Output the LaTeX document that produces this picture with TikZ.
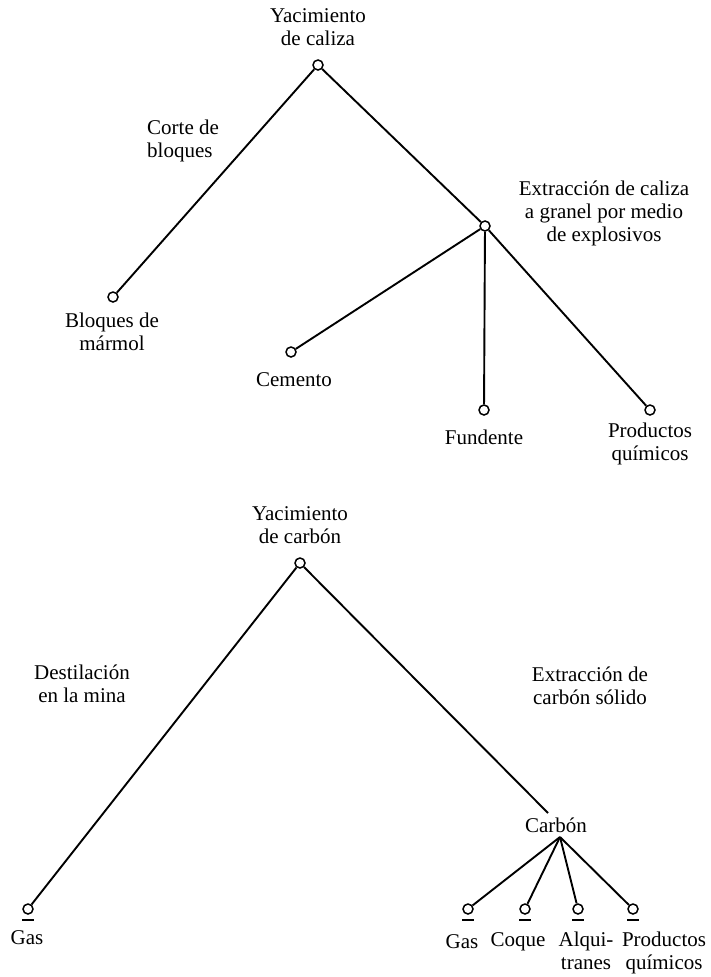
\documentclass[tikz,border=0pt]{standalone}
\usepackage{fontspec}
\setmainfont{Liberation Serif}
\begin{document}
\begin{tikzpicture}[x=1pt,y=-1pt,
  branch/.style={line width=1.9pt},
  joint/.style={circle,draw,line width=1.5pt,fill=white,inner sep=0pt,minimum size=10pt},
  lbl/.style={font=\fontsize{21}{23}\selectfont,align=center,inner sep=0pt},
  underbar/.style={line width=1.9pt},
]
\useasboundingbox (0,0) rectangle (711,977);

% ---- limestone deposit ----
\node[lbl] (t1) at (318,27) {Yacimiento\\de caliza};
\node[joint] (r1) at (318,65) {};
\node[joint] (a)  at (485,226) {};
\node[joint] (b1) at (113,297) {};
\node[joint] (cem) at (291,352) {};
\node[joint] (fun) at (484,410) {};
\node[joint] (pq)  at (650,410) {};

\node[lbl,anchor=west,align=left] (corte) at (147,141) {Corte de\\bloques};
\node[lbl] (extr1) at (604,213) {Extracción de caliza\\a granel por medio\\de explosivos};
\node[lbl] (tb1) at (112,332) {Bloques de\\mármol};
\node[lbl] (tcem) at (294,380) {Cemento};
\node[lbl] (tfun) at (484,437) {Fundente};
\node[lbl] (tpq) at (650,444) {Productos\\químicos};

\draw[branch] (r1) -- (b1);
\draw[branch] (r1) -- (a);
\draw[branch] (a) -- (cem);
\draw[branch] (a) -- (fun);
\draw[branch] (a) -- (pq);

% ---- coal deposit ----
\node[lbl] (t2) at (300,525) {Yacimiento\\de carbón};
\node[joint] (r2) at (300,563) {};
\node[lbl] (dest) at (82,684) {Destilación\\en la mina};
\node[lbl] (extr2) at (590,686) {Extracción de\\carbón sólido};

\node[joint] (g1) at (28,909) {};
\node[lbl] (tg1) at (27,938) {Gas};

\node[lbl] (carb) at (556,825) {Carbón};
\coordinate (cin) at (548,813);
\coordinate (cout) at (560,837);

\node[joint] (g2) at (468,909) {};
\node[joint] (co) at (525,909) {};
\node[joint] (al) at (578,909) {};
\node[joint] (pq2) at (633,909) {};

\node[lbl] (tg2) at (462,942) {Gas};
\node[lbl] (tco) at (518,942) {Coque};
\node[lbl,anchor=north] (tal) at (586,932) {Alqui-\\tranes};
\node[lbl,anchor=north] (tpq2) at (664,932) {Productos\\químicos};

\draw[branch] (r2) -- (g1);
\draw[branch] (r2) -- (cin);
\draw[branch] (cout) -- (g2);
\draw[branch] (cout) -- (co);
\draw[branch] (cout) -- (al);
\draw[branch] (cout) -- (pq2);

% bars under the end products of the coal tree
\foreach \n in {g1,g2,co,al,pq2}
  \draw[underbar] ([xshift=-6pt,yshift=-11pt]\n.center) -- ([xshift=6pt,yshift=-11pt]\n.center);
\end{tikzpicture}
\end{document}
